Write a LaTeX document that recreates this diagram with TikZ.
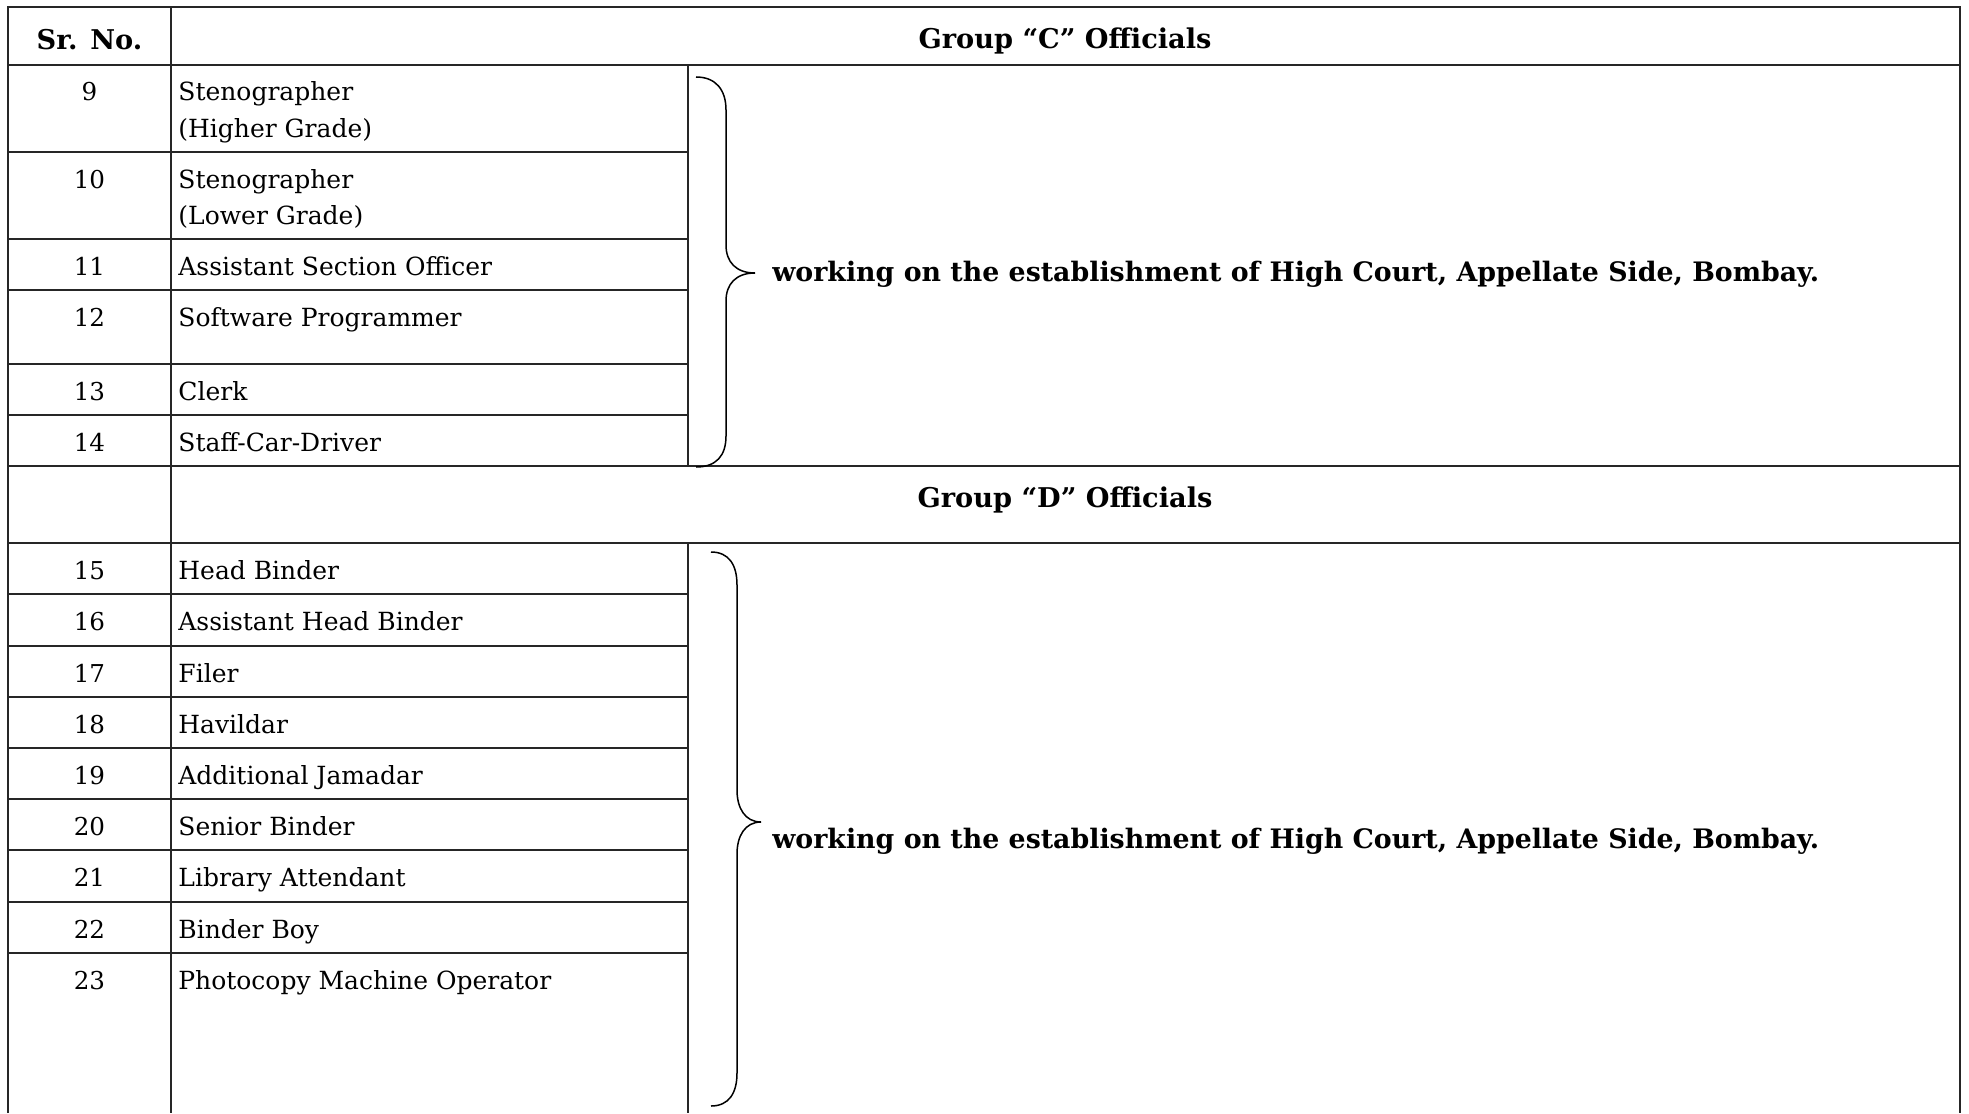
\documentclass[tikz,border=0pt]{standalone}
\usepackage{fontspec}
\setmainfont{DejaVu Serif}
\usepackage{tikz}

\begin{document}
\begin{tikzpicture}[x=0.5pt,y=-0.5pt,
    rule/.style={line width=1pt,black!85},
    thinrule/.style={line width=0.7pt,black!85},
    bracket/.style={line width=0.75pt},
    srno/.style={anchor=base,inner sep=0pt,font=\fontsize{12.3}{18}\selectfont},
    post/.style={anchor=base west,inner sep=0pt,align=left,font=\fontsize{12.5}{18}\selectfont},
    head/.style={anchor=base,inner sep=0pt,font=\bfseries\fontsize{13.6}{16}\selectfont},
    remark/.style={anchor=base west,inner sep=0pt,font=\bfseries\fontsize{13.4}{16}\selectfont}]
    \useasboundingbox (0,0) rectangle (1969,1113);

    % Frame and column rules
    \draw[rule] (8,1113) -- (8,7) -- (1960,7) -- (1960,1113);
    \draw[rule] (171,7) -- (171,1113);
    \draw[thinrule] (688,65) -- (688,466);
    \draw[thinrule] (688,543) -- (688,1113);
    \foreach \y in {65,466,543}
        \draw[rule] (8,\y) -- (1960,\y);   % full width rules

    % Header row
    \node[head] (srhead) at (89.5,50) {Sr. No.};
    \node[head] (grpC) at (1065,49) {Group “C” Officials};
    \node[head] (grpD) at (1065,507) {Group “D” Officials};

    % Group C posts (\k = extra lines of the post name)
    \foreach \n/\y/\k/\txt in {9/65/1/{Stenographer\\(Higher Grade)},
                               10/152/1/{Stenographer\\(Lower Grade)},
                               11/239/0/{Assistant Section Officer},
                               12/290/0/{Software Programmer},
                               13/364/0/{Clerk},
                               14/415/0/{Staff-Car-Driver}}{
        \draw[rule] (8,\y) -- (688,\y);
        \node[srno] (no\n) at (89.5,\y+36) {\n};
        \node[post] (post\n) at (178,\y+36+36*\k) {\txt};
    }

    % Group D posts
    \foreach \n/\y/\txt in {15/543/{Head Binder},
                            16/594/{Assistant Head Binder},
                            17/646/{Filer},
                            18/697/{Havildar},
                            19/748/{Additional Jamadar},
                            20/799/{Senior Binder},
                            21/850/{Library Attendant},
                            22/902/{Binder Boy},
                            23/953/{Photocopy Machine Operator}}{
        \draw[rule] (8,\y) -- (688,\y);
        \node[srno] (no\n) at (89.5,\y+36) {\n};
        \node[post] (post\n) at (178,\y+36) {\txt};
    }

    % Braces
    \draw[bracket] (696,77) .. controls (716,77) and (726,90) .. (726,110) -- (726,245)
        .. controls (726,262) and (736,273) .. (755,273)
        .. controls (736,273) and (726,284) .. (726,301) -- (726,436)
        .. controls (726,456) and (716,467) .. (696,467);
    \draw[bracket] (711,552) .. controls (729,552) and (737,565) .. (737,585) -- (737,790)
        .. controls (737,808) and (745,822) .. (761,822)
        .. controls (745,822) and (737,836) .. (737,854) -- (737,1073)
        .. controls (737,1093) and (729,1106) .. (711,1106);

    % Remarks
    \node[remark] (remC) at (772,281) {working on the establishment of High Court, Appellate Side, Bombay.};
    \node[remark] (remD) at (772,848) {working on the establishment of High Court, Appellate Side, Bombay.};
\end{tikzpicture}
\end{document}
